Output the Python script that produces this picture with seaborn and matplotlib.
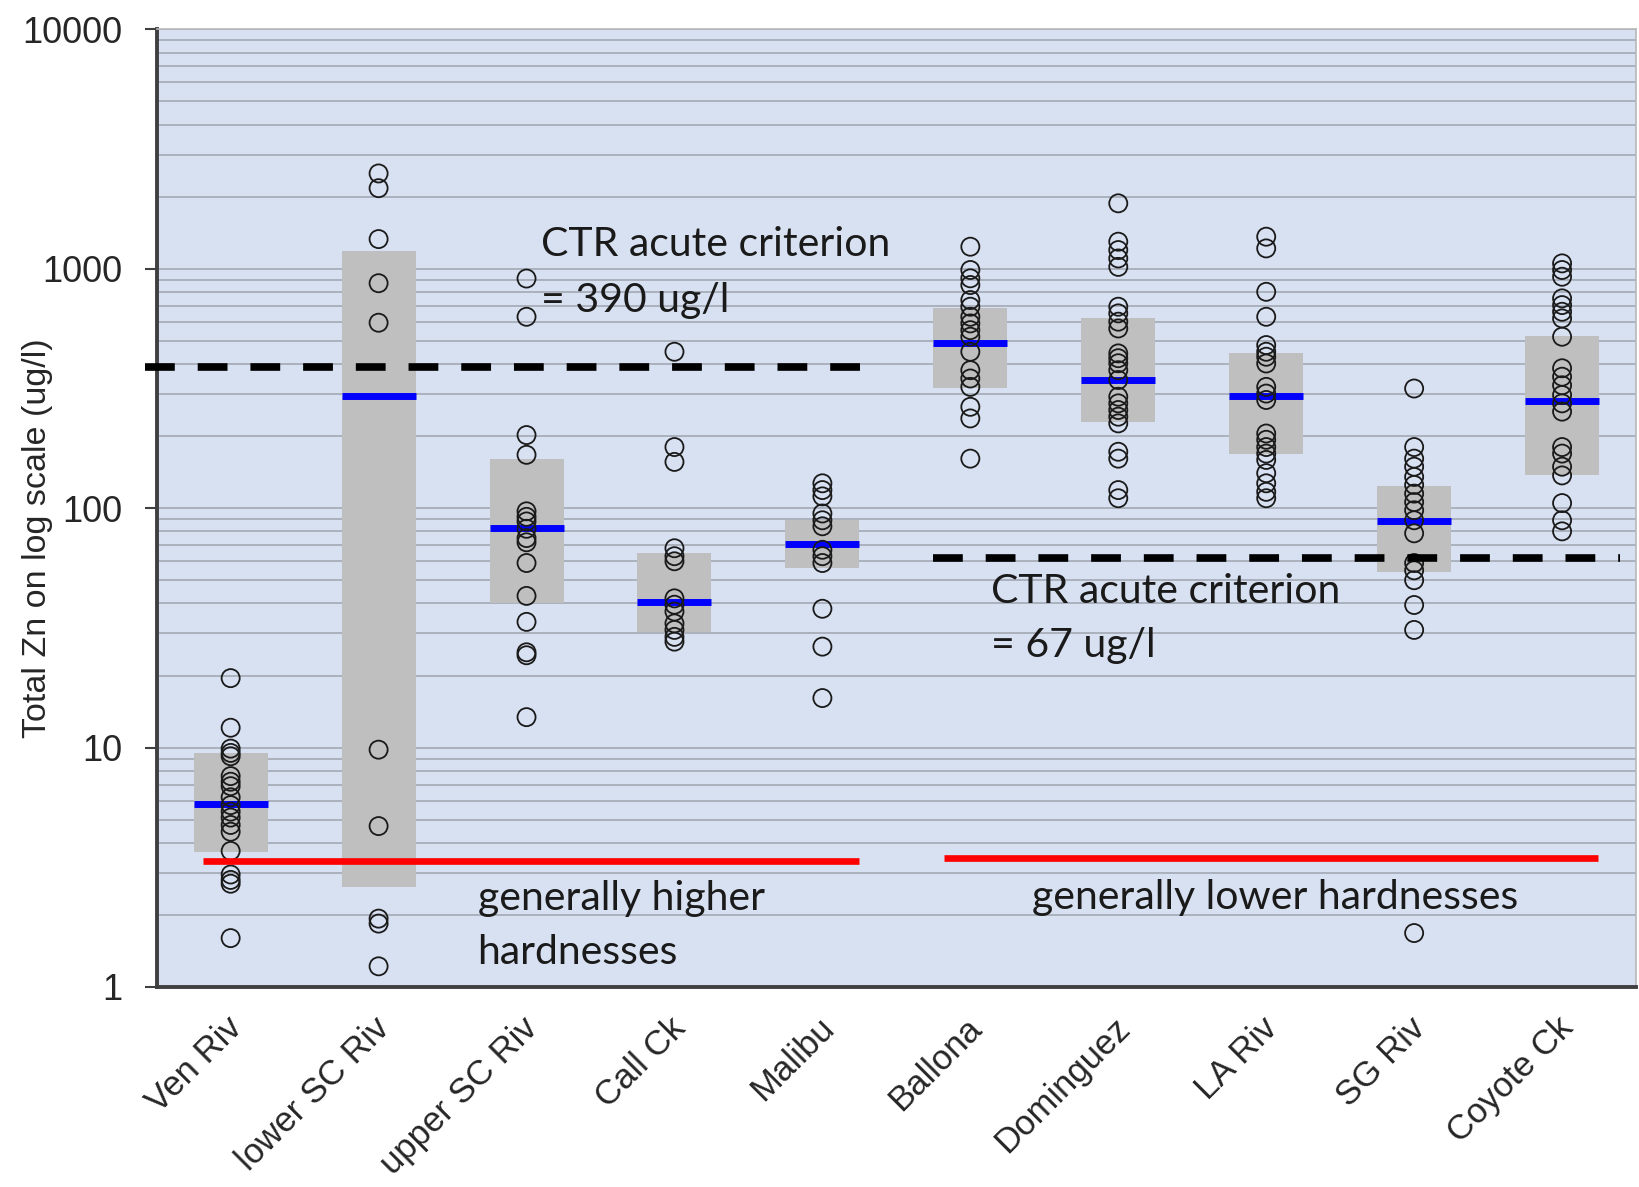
import matplotlib
matplotlib.use("Agg")
import matplotlib.pyplot as plt
import matplotlib.transforms as mtrans
import numpy as np
import pandas as pd
import seaborn as sns
from matplotlib.ticker import FixedLocator, NullFormatter

# Sites along the x axis
sites = ["Ven Riv", "lower SC Riv", "upper SC Riv", "Call Ck", "Malibu",
         "Ballona", "Dominguez", "LA Riv", "SG Riv", "Coyote Ck"]

# Total Zn samples (ug/l)
ven_riv = [19.5, 12.1, 9.9, 9.5, 9.2, 7.6, 7.2, 6.9, 6.2, 5.75, 5.4, 5.1, 4.75,
           4.45, 3.7, 2.95, 2.8, 2.7, 1.6]
lower_sc_riv = [2500, 2170, 1330, 870, 595, 9.8, 4.7, 1.93, 1.84, 1.22]
upper_sc_riv = [910, 630, 202, 167, 97, 92, 88, 82, 75, 72, 59, 43, 33.5, 25,
                24.3, 13.4]
call_ck = [450, 180, 156, 68, 63, 60, 42, 39.5, 37, 33, 31, 29, 27.7]
malibu = [127, 119, 112, 95, 89, 84, 67, 63, 59, 38, 26.4, 16.1]
ballona = [1236, 988, 912, 855, 740, 694, 630, 591, 554, 520, 450, 377, 348,
           321, 265, 237, 161]
dominguez = [1876, 1297, 1197, 1104, 1018, 694, 651, 601, 563, 443, 423, 403,
             377, 343, 292, 274, 257, 241, 226, 172, 161, 119, 110]
la_riv = [1361, 1216, 801, 630, 480, 450, 429, 402, 321, 301, 283, 205, 193,
          180, 169, 159, 140, 127, 117, 110]
sg_riv = [316, 180, 161, 149, 135, 125, 115, 106, 98, 89, 78.5, 59, 55, 50,
          39.4, 31, 1.68]
coyote_ck = [1053, 988, 926, 752, 705, 661, 620, 520, 384, 354, 326, 297, 274,
             253, 180, 169, 149, 137, 105, 89, 80]

# grey box range and blue median per site
box_low = [3.65, 2.61, 40, 30.5, 56, 319, 228, 169, 54.2, 137]
box_high = [9.5, 1190, 161, 65, 89, 687, 624, 443, 124, 525]
box_median = [5.8, 295, 83, 40.4, 70.8, 491, 344, 295, 88.5, 280]

# criterion lines (as drawn) and the hardness marker lines
crit_high = 390
crit_low = 62
hardness_high_y = 3.35
hardness_low_y = 3.45

samples = [ven_riv, lower_sc_riv, upper_sc_riv, call_ck, malibu,
           ballona, dominguez, la_riv, sg_riv, coyote_ck]
df = pd.DataFrame({
    "site": np.repeat(sites, [len(s) for s in samples]),
    "zn": np.concatenate(samples),
})

sns.set_theme(style="white")
plt.rcParams["font.family"] = ["Liberation Sans", "DejaVu Sans"]

fig = plt.figure(figsize=(16.39, 11.87), dpi=100)
ax = fig.add_axes([0.0956, 0.1685, 0.9026, 0.8068])
ax.set_facecolor("#D8E1F1")
ax.set_yscale("log")

pos = np.arange(len(sites))
ax.bar(pos, np.array(box_high) - np.array(box_low), bottom=box_low,
       width=0.5, color="#BFBFBF", edgecolor="none", linewidth=0, zorder=2)
ax.hlines(box_median, pos - 0.25, pos + 0.25, color="#0000FF", lw=5, zorder=3)

sns.stripplot(data=df, x="site", y="zn", order=sites, jitter=False, ax=ax,
              marker="o", size=13, facecolors="none", edgecolor="#1a1a1a",
              linewidth=1.3, zorder=4)

# criterion lines
dash = (0, (3.9, 3.0))
ax.plot([-0.58, 4.376], [crit_high, crit_high], color="black", lw=5.5,
        ls=dash, clip_on=False, zorder=5)
ax.plot([4.75, 9.39], [crit_low, crit_low], color="black", lw=5.5,
        ls=dash, zorder=5)

# hardness lines
ax.plot([-0.185, 4.25], [hardness_high_y, hardness_high_y], color="#FF0000",
        lw=4.8, solid_capstyle="butt", zorder=5)
ax.plot([4.82, 9.24], [hardness_low_y, hardness_low_y], color="#FF0000",
        lw=4.8, solid_capstyle="butt", zorder=5)

txt = dict(fontsize=29.5, color="#1a1a1a", family=["Lato", "DejaVu Sans"],
           va="center", ha="left", zorder=6)
ax.text(2.098, 1262, "CTR acute criterion", **txt)
ax.text(2.098, 740, "= 390 ug/l", **txt)
ax.text(5.138, 44.9, "CTR acute criterion", **txt)
ax.text(5.138, 26.6, "= 67 ug/l", **txt)
ax.text(1.669, 2.34, "generally higher", **txt)
ax.text(1.669, 1.40, "hardnesses", **txt)
ax.text(5.414, 2.36, "generally lower hardnesses", **txt)

ax.set_xlim(-0.5, 9.5)
ax.set_ylim(1, 10000)
ax.set_yticks([1, 10, 100, 1000, 10000])
ax.set_yticklabels(["1", "10", "100", "1000", "10000"])
ax.yaxis.set_minor_locator(FixedLocator(
    [m * 10 ** e for e in range(0, 4) for m in range(2, 10)]))
ax.yaxis.set_minor_formatter(NullFormatter())
ax.grid(True, axis="y", which="both", color="#A3A9B4", lw=1.2, zorder=0)
ax.set_axisbelow(True)

ax.tick_params(axis="y", which="major", length=8.5, width=1.5, pad=16,
               labelsize=26, color="#404040", left=True)
ax.tick_params(axis="y", which="minor", length=0)
ax.tick_params(axis="x", length=0, pad=26, labelsize=25)
shift = mtrans.ScaledTranslation(6 / 100, 0, fig.dpi_scale_trans)
for lab in ax.get_xticklabels():
    lab.set_rotation(45)
    lab.set_ha("right")
    lab.set_va("center")
    lab.set_rotation_mode("anchor")
    lab.set_transform(lab.get_transform() + shift)

ax.set_xlabel("")
ax.set_ylabel("Total Zn on log scale (ug/l)", fontsize=24.5)
ax.yaxis.set_label_coords(-0.070, 0.469)

for side in ["left", "bottom"]:
    ax.spines[side].set_color("#404040")
    ax.spines[side].set_linewidth(2.8)
for side in ["top", "right"]:
    ax.spines[side].set_color("#B8B8B8")
    ax.spines[side].set_linewidth(1.2)

fig.savefig("out.png", dpi=100, facecolor="white")
